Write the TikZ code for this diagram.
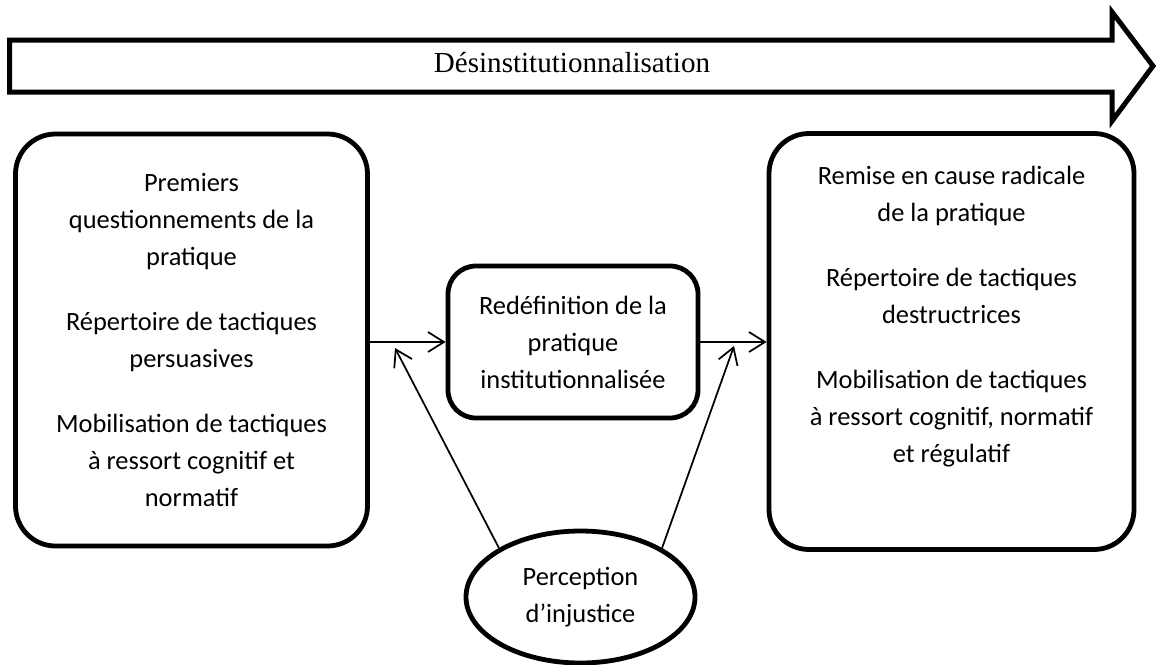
\documentclass[tikz,border=0pt]{standalone}
\usepackage{fontspec}
\setmainfont{Carlito}
\newfontfamily\titlefont{Liberation Serif}
\usetikzlibrary{shapes.geometric,arrows.meta}
\newcommand{\boxfont}{\fontsize{19.8}{27.75}\selectfont}

\begin{document}
\begin{tikzpicture}[x=0.75pt,y=-0.75pt,
        stage/.style={draw,line width=3.6pt,rounded corners=30pt,align=center,font=\boxfont},
        conn/.style={line width=1.3pt,-{Straight Barb[length=12pt,width=15pt]}}]
    \useasboundingbox (0,0) rectangle (1160,664);

    % big arrow
    \draw[line width=3.75pt] (9.5,40) -- (1112,40) -- (1112,12) -- (1153,66) -- (1112,121) -- (1112,92) -- (9.5,92) -- cycle;
    \node[font=\titlefont\fontsize{21.8}{26}\selectfont] (desinst) at (572,63) {Désinstitutionnalisation};

    \node[stage,minimum width=264pt,minimum height=309pt] (lbox) at (191.5,340)
        {Premiers\\ questionnements de la\\ pratique\\[21pt] Répertoire de tactiques\\ persuasives\\[21pt] Mobilisation de tactiques\\ à ressort cognitif et\\ normatif};
    \node[stage,minimum width=187.5pt,minimum height=114pt,rounded corners=21pt] (mbox) at (573,342)
        {Redéfinition de la\\ pratique\\ institutionnalisée};
    \node[stage,minimum width=273.75pt,minimum height=312pt] (rbox) at (951.5,341.5) {};
    \node[align=center,font=\boxfont] (rtext) at ([yshift=19pt]rbox.center)
        {Remise en cause radicale\\ de la pratique\\[21pt] Répertoire de tactiques\\ destructrices\\[21pt] Mobilisation de tactiques\\ à ressort cognitif, normatif\\ et régulatif};
    \node[draw,ellipse,line width=3.6pt,minimum width=171.75pt,minimum height=99pt,align=center,font=\boxfont] (perc) at (580.5,597)
        {Perception\\ d’injustice};

    \coordinate (ltip) at (395,348);
    \coordinate (rtip) at (734,346);

    \draw[conn] (lbox.east |- mbox.west) -- (mbox.west);
    \draw[conn] (mbox.east) -- (rbox.west |- mbox.east);
    \draw[conn] (perc.149) -- (ltip);
    \draw[conn] (perc.31) -- (rtip);
\end{tikzpicture}
\end{document}
